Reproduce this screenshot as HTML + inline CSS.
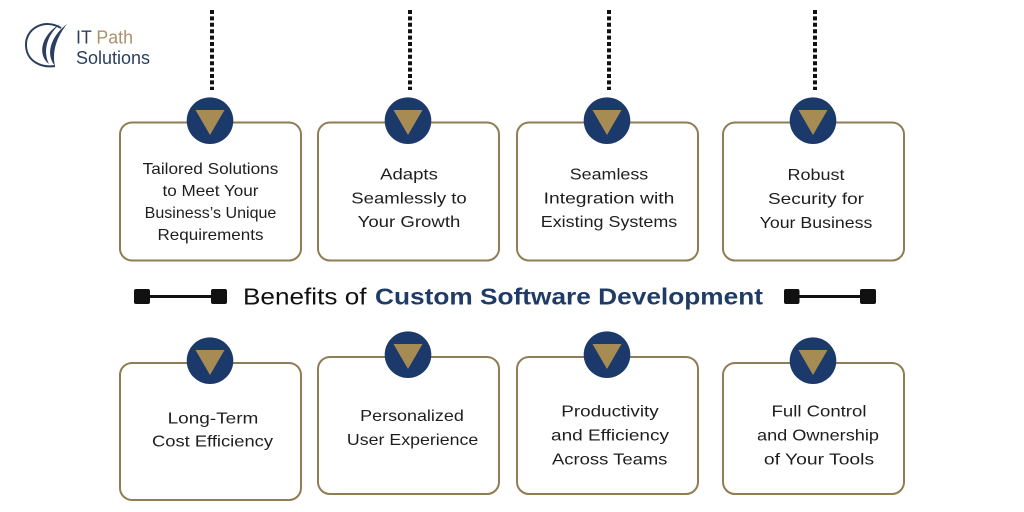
<!DOCTYPE html>
<html>
<head>
<meta charset="utf-8">
<style>
  html, body { margin:0; padding:0; background:#ffffff; }
  body { width:1024px; height:512px; overflow:hidden; }
  svg { display:block; }
  .bt { font-family:"Liberation Sans", sans-serif; font-size:16px; fill:#1e1e1e; text-anchor:middle; }
</style>
</head>
<body>
<svg width="1024" height="512" viewBox="0 0 1024 512" xmlns="http://www.w3.org/2000/svg">
  <rect width="1024" height="512" fill="#ffffff"/>

  <!-- Logo -->
  <path d="M 61 28 C 45 18, 25 28, 26 46 C 27 62, 42 68, 55 66" fill="none" stroke="#2c3e5e" stroke-width="2"/>
  <path d="M 49 64 C 37 55, 41 35, 60 24 C 46 36, 43 52, 49 64 Z" fill="#2c3e5e"/>
  <path d="M 55 66 C 45 54, 51 36, 67 24 C 56 38, 52 52, 55 66 Z" fill="#2c3e5e"/>
  <text x="76" y="43.5" font-family="Liberation Sans, sans-serif" font-size="18" fill="#2c3e5e" textLength="57" lengthAdjust="spacingAndGlyphs">IT <tspan fill="#a8926a">Path</tspan></text>
  <text x="76" y="64" font-family="Liberation Sans, sans-serif" font-size="18" fill="#2c3e5e" textLength="74" lengthAdjust="spacingAndGlyphs">Solutions</text>

  <!-- Dotted connectors -->
  <g stroke="#111" stroke-width="4" stroke-dasharray="4 2.4">
    <line x1="212" y1="10" x2="212" y2="90"/>
    <line x1="410" y1="10" x2="410" y2="90"/>
    <line x1="609" y1="10" x2="609" y2="90"/>
    <line x1="815" y1="10" x2="815" y2="90"/>
  </g>

  <!-- Boxes -->
  <g fill="#ffffff" stroke="#8f7d55" stroke-width="2">
    <rect x="120" y="122.5" width="181" height="138" rx="12"/>
    <rect x="318" y="122.5" width="181" height="138" rx="12"/>
    <rect x="517" y="122.5" width="181" height="138" rx="12"/>
    <rect x="723" y="122.5" width="181" height="138" rx="12"/>

    <rect x="120" y="363" width="181" height="137" rx="12"/>
    <rect x="318" y="357" width="181" height="137" rx="12"/>
    <rect x="517" y="357" width="181" height="137" rx="12"/>
    <rect x="723" y="363" width="181" height="131" rx="12"/>
  </g>

  <!-- Circles with triangles -->
  <g>
    <circle cx="210" cy="120.7" r="23.3" fill="#1b3a6b"/>
    <polygon points="195.5,110 224.5,110 210,135" fill="#a68b52"/>
    <circle cx="408" cy="120.7" r="23.3" fill="#1b3a6b"/>
    <polygon points="393.5,110 422.5,110 408,135" fill="#a68b52"/>
    <circle cx="607" cy="120.7" r="23.3" fill="#1b3a6b"/>
    <polygon points="592.5,110 621.5,110 607,135" fill="#a68b52"/>
    <circle cx="813" cy="120.7" r="23.3" fill="#1b3a6b"/>
    <polygon points="798.5,110 827.5,110 813,135" fill="#a68b52"/>

    <circle cx="210" cy="360.7" r="23.3" fill="#1b3a6b"/>
    <polygon points="195.5,350 224.5,350 210,375" fill="#a68b52"/>
    <circle cx="408" cy="354.7" r="23.3" fill="#1b3a6b"/>
    <polygon points="393.5,344 422.5,344 408,369" fill="#a68b52"/>
    <circle cx="607" cy="354.7" r="23.3" fill="#1b3a6b"/>
    <polygon points="592.5,344 621.5,344 607,369" fill="#a68b52"/>
    <circle cx="813" cy="360.7" r="23.3" fill="#1b3a6b"/>
    <polygon points="798.5,350 827.5,350 813,375" fill="#a68b52"/>
  </g>

  <!-- Top row text -->
  <text class="bt" x="210.5" y="174" textLength="135.6" lengthAdjust="spacingAndGlyphs">Tailored Solutions</text>
  <text class="bt" x="210.5" y="196" textLength="96" lengthAdjust="spacingAndGlyphs">to Meet Your</text>
  <text class="bt" x="210.5" y="218" textLength="131.7" lengthAdjust="spacingAndGlyphs">Business’s Unique</text>
  <text class="bt" x="210.5" y="240" textLength="106" lengthAdjust="spacingAndGlyphs">Requirements</text>

  <text class="bt" x="409" y="179.3" textLength="57.7" lengthAdjust="spacingAndGlyphs">Adapts</text>
  <text class="bt" x="409" y="203.3" textLength="115.4" lengthAdjust="spacingAndGlyphs">Seamlessly to</text>
  <text class="bt" x="409" y="227" textLength="102.7" lengthAdjust="spacingAndGlyphs">Your Growth</text>

  <text class="bt" x="609" y="179.3" textLength="78.5" lengthAdjust="spacingAndGlyphs">Seamless</text>
  <text class="bt" x="609" y="203.3" textLength="130.7" lengthAdjust="spacingAndGlyphs">Integration with</text>
  <text class="bt" x="609" y="227" textLength="136.5" lengthAdjust="spacingAndGlyphs">Existing Systems</text>

  <text class="bt" x="816" y="180" textLength="57" lengthAdjust="spacingAndGlyphs">Robust</text>
  <text class="bt" x="816" y="204" textLength="96" lengthAdjust="spacingAndGlyphs">Security for</text>
  <text class="bt" x="816" y="228" textLength="112.7" lengthAdjust="spacingAndGlyphs">Your Business</text>

  <!-- Heading -->
  <g stroke="#111" fill="#111">
    <rect x="134" y="289" width="16" height="15" rx="2" stroke="none"/>
    <rect x="211" y="289" width="16" height="15" rx="2" stroke="none"/>
    <line x1="149" y1="296.5" x2="212" y2="296.5" stroke-width="3"/>
    <rect x="784" y="289" width="15.5" height="15" rx="2" stroke="none"/>
    <rect x="860" y="289" width="16" height="15" rx="2" stroke="none"/>
    <line x1="798" y1="296.5" x2="861" y2="296.5" stroke-width="3"/>
  </g>
  <text x="243" y="304.3" font-family="Liberation Sans, sans-serif" font-size="23" fill="#111" textLength="123.5" lengthAdjust="spacingAndGlyphs">Benefits of</text>
  <text x="375" y="304.3" font-family="Liberation Sans, sans-serif" font-size="23" font-weight="bold" fill="#1f3b66" textLength="388" lengthAdjust="spacingAndGlyphs">Custom Software Development</text>

  <!-- Bottom row text -->
  <text class="bt" x="213" y="423.3" textLength="90.8" lengthAdjust="spacingAndGlyphs">Long-Term</text>
  <text class="bt" x="212.5" y="446.7" textLength="121" lengthAdjust="spacingAndGlyphs">Cost Efficiency</text>

  <text class="bt" x="412" y="421" textLength="103.6" lengthAdjust="spacingAndGlyphs">Personalized</text>
  <text class="bt" x="412.6" y="445" textLength="131.3" lengthAdjust="spacingAndGlyphs">User Experience</text>

  <text class="bt" x="610" y="416.7" textLength="97.4" lengthAdjust="spacingAndGlyphs">Productivity</text>
  <text class="bt" x="610" y="440.7" textLength="118" lengthAdjust="spacingAndGlyphs">and Efficiency</text>
  <text class="bt" x="609.7" y="464.3" textLength="115.4" lengthAdjust="spacingAndGlyphs">Across Teams</text>

  <text class="bt" x="819" y="416.7" textLength="94.9" lengthAdjust="spacingAndGlyphs">Full Control</text>
  <text class="bt" x="818" y="440.7" textLength="122" lengthAdjust="spacingAndGlyphs">and Ownership</text>
  <text class="bt" x="819" y="464.3" textLength="110.3" lengthAdjust="spacingAndGlyphs">of Your Tools</text>
</svg>
</body>
</html>
